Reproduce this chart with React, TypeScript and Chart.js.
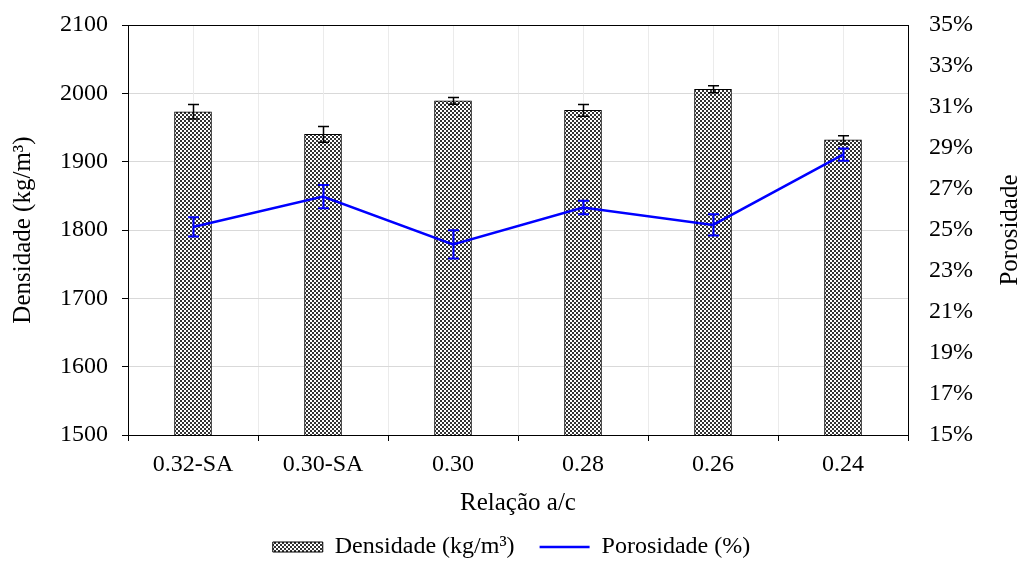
import React, { useEffect, useRef } from "react";
import { Chart, registerables } from "chart.js";

Chart.register(...registerables);

const categories = ["0.32-SA", "0.30-SA", "0.30", "0.28", "0.26", "0.24"];
const densidade = [1973, 1940, 1989, 1975, 2006, 1932];
const densidadeErr = [10.5, 11.5, 5, 8.5, 5, 6];
const porosidade = [25.15, 26.63, 24.3, 26.1, 25.25, 28.68];
const porosidadeErr = [0.47, 0.57, 0.69, 0.33, 0.52, 0.3];

const densMin = 1500;
const densMax = 2100;
const densStep = 100;
const porMin = 15;
const porMax = 35;
const porStep = 2;

const FONT = "'Liberation Serif', 'Times New Roman', serif";
const rightTitle = "Porosidade";

function makePattern(): CanvasPattern | string {
  const c = document.createElement("canvas");
  c.width = 4;
  c.height = 4;
  const g = c.getContext("2d");
  if (!g) return "#888";
  g.fillStyle = "#ffffff";
  g.fillRect(0, 0, 4, 4);
  g.fillStyle = "#333333";
  g.fillRect(0, 0, 2, 2);
  g.fillRect(2, 2, 2, 2);
  const p = g.createPattern(c, "repeat");
  return p || "#888";
}

const gridPlugin = {
  id: "centerGrid",
  beforeDatasetsDraw(chart: any) {
    const { ctx, chartArea } = chart;
    const xs = chart.scales.x;
    ctx.save();
    ctx.strokeStyle = "#ebebeb";
    ctx.lineWidth = 1;
    categories.forEach((_, i) => {
      const x = Math.round(xs.getPixelForValue(i)) + 0.5;
      ctx.beginPath();
      ctx.moveTo(x, chartArea.top);
      ctx.lineTo(x, chartArea.bottom);
      ctx.stroke();
    });
    ctx.strokeStyle = "#000";
    const t = Math.round(chartArea.top) + 0.5;
    ctx.beginPath();
    ctx.moveTo(chartArea.left, t);
    ctx.lineTo(chartArea.right, t);
    ctx.stroke();
    ctx.restore();
  },
  afterDraw(chart: any) {
    const { ctx, chartArea } = chart;
    const s = chart.scales.y1;
    ctx.save();
    ctx.translate(s.right - 13, (chartArea.top + chartArea.bottom) / 2);
    ctx.rotate(-Math.PI / 2);
    ctx.font = `25px ${FONT}`;
    ctx.fillStyle = "#000";
    ctx.textAlign = "center";
    ctx.textBaseline = "middle";
    ctx.fillText(rightTitle, 0, 0);
    ctx.restore();
  },
};

const errorBarPlugin = {
  id: "errorBars",
  afterDatasetsDraw(chart: any) {
    const ctx = chart.ctx;
    const draw = (
      dsIndex: number,
      values: number[],
      errs: number[],
      scaleId: string,
      color: string,
      lw: number
    ) => {
      const meta = chart.getDatasetMeta(dsIndex);
      const scale = chart.scales[scaleId];
      ctx.save();
      ctx.strokeStyle = color;
      ctx.lineWidth = lw;
      meta.data.forEach((el: any, i: number) => {
        const x = Math.round(el.x) + 0.5;
        const yTop = scale.getPixelForValue(values[i] + errs[i]);
        const yBot = scale.getPixelForValue(values[i] - errs[i]);
        const half = 5.5;
        ctx.beginPath();
        ctx.moveTo(x, yTop);
        ctx.lineTo(x, yBot);
        ctx.moveTo(x - half, yTop);
        ctx.lineTo(x + half, yTop);
        ctx.moveTo(x - half, yBot);
        ctx.lineTo(x + half, yBot);
        ctx.stroke();
      });
      ctx.restore();
    };
    draw(0, densidade, densidadeErr, "y", "#000000", 1.5);
    draw(1, porosidade, porosidadeErr, "y1", "#0000ff", 2);
  },
};

export default function App() {
  const ref = useRef<HTMLCanvasElement>(null);

  useEffect(() => {
    if (!ref.current) return;
    const pattern = makePattern();
    const chart = new Chart(ref.current, {
      type: "bar",
      data: {
        labels: categories,
        datasets: [
          {
            type: "bar",
            label: "Densidade (kg/m³)",
            data: densidade,
            backgroundColor: pattern as any,
            borderColor: "#000",
            borderWidth: 1,
            barThickness: 37,
            yAxisID: "y",
            order: 1,
          },
          {
            type: "line",
            label: "Porosidade (%)",
            data: porosidade,
            borderColor: "#0000ff",
            backgroundColor: "#0000ff",
            borderWidth: 2.5,
            pointRadius: 0,
            tension: 0,
            yAxisID: "y1",
            order: 0,
          },
        ],
      },
      options: {
        responsive: false,
        animation: false,
        devicePixelRatio: 1,
        layout: { padding: { top: 25, bottom: -7, left: 0, right: 0 } },
        plugins: {
          tooltip: { enabled: false },
          legend: {
            position: "bottom",
            labels: {
              font: { family: FONT, size: 24 },
              color: "#000",
              usePointStyle: true,
              pointStyleWidth: 50,
              boxHeight: 10,
              padding: 25,
              generateLabels: () => [
                {
                  text: "Densidade (kg/m³)",
                  fillStyle: pattern as any,
                  strokeStyle: "#000",
                  lineWidth: 1,
                  pointStyle: "rect",
                  datasetIndex: 0,
                  hidden: false,
                  fontColor: "#000",
                } as any,
                {
                  text: "Porosidade (%)",
                  fillStyle: "#0000ff",
                  strokeStyle: "#0000ff",
                  lineWidth: 2.5,
                  pointStyle: "line",
                  datasetIndex: 1,
                  hidden: false,
                  fontColor: "#000",
                } as any,
              ],
            },
          },
        },
        scales: {
          x: {
            type: "category",
            grid: {
              color: "#ebebeb",
              tickColor: "#000",
              tickLength: 6,
              offset: true,
            },
            border: { color: "#000", width: 1 },
            ticks: {
              font: { family: FONT, size: 24 },
              color: "#000",
              padding: 9,
              maxRotation: 0,
            },
            title: {
              display: true,
              text: "Relação a/c",
              font: { family: FONT, size: 25 },
              color: "#000",
              padding: { top: 0, bottom: -8 },
            },
            afterFit: (s: any) => {
              s.height = 75;
            },
          },
          y: {
            type: "linear",
            position: "left",
            min: densMin,
            max: densMax,
            ticks: {
              stepSize: densStep,
              font: { family: FONT, size: 24 },
              color: "#000",
              padding: 14,
              callback: (v: any) => String(v),
            },
            grid: {
              color: "#d9d9d9",
              tickColor: "#000",
              tickLength: 6,
            },
            border: { color: "#000", width: 1 },
            title: {
              display: true,
              text: "Densidade (kg/m³)",
              font: { family: FONT, size: 25 },
              color: "#000",
              padding: { top: 8, bottom: 0 },
            },
            afterFit: (s: any) => {
              s.width = 128;
              s.paddingTop = 0;
              s.paddingBottom = 0;
            },
          },
          y1: {
            type: "linear",
            position: "right",
            min: porMin,
            max: porMax,
            ticks: {
              stepSize: porStep,
              font: { family: FONT, size: 24 },
              color: "#000",
              padding: 21,
              callback: (v: any) => `${v}%`,
            },
            grid: { display: false, drawTicks: false },
            border: { color: "#000", width: 1 },
            afterFit: (s: any) => {
              s.width = 115;
              s.paddingTop = 0;
              s.paddingBottom = 0;
            },
          },
        },
      },
      plugins: [gridPlugin, errorBarPlugin],
    } as any);
    return () => chart.destroy();
  }, []);

  return (
    <div style={{ position: "absolute", left: 0, top: 0, width: 1023, height: 562 }}>
      <canvas ref={ref} width={1023} height={562} />
    </div>
  );
}
